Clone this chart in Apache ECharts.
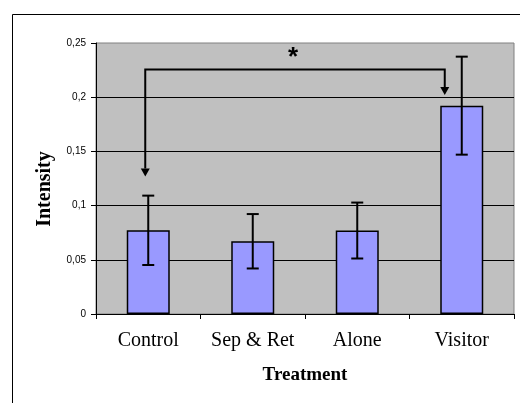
<!DOCTYPE html>
<html>
<head>
<meta charset="utf-8">
<script src="https://cdn.jsdelivr.net/npm/echarts@6/dist/echarts.min.js"></script>
<style>html,body{margin:0;padding:0;background:#fff}#c{width:520px;height:403px}</style>
</head>
<body>
<div id="c"></div>
<script>
// ---- data ----
const categories = ['Control', 'Sep & Ret', 'Alone', 'Visitor'];
const means = [0.0772, 0.0671, 0.0770, 0.1922];
const errors = [0.0320, 0.0251, 0.0258, 0.0452];
const yMin = 0, yMax = 0.25, yStep = 0.05;
// significance bracket: [fromIndex, toIndex, bracketLevel, leftTip, rightTip]
const bracket = [0, 3, 0.2255, 0.1268, 0.2021];
const bracketLabel = '*';
const xTitle = 'Treatment';
const yTitle = 'Intensity';

const chart = echarts.init(document.getElementById('c'), null, {renderer: 'canvas'});

const errData = categories.map((c, i) => [i, means[i] - errors[i], means[i] + errors[i]]);

chart.setOption({
  animation: false,
  backgroundColor: '#fff',
  grid: {left: 96, top: 43, right: 6, bottom: 89, show: true,
         backgroundColor: '#c0c0c0', borderColor: '#808080', borderWidth: 1},
  graphic: [
    {type: 'rect', shape: {x: 12.5, y: 14.5, width: 700, height: 600},
     style: {fill: 'none', stroke: '#000', lineWidth: 1}, z: 0},
    {type: 'text', x: 45, y: 189, rotation: Math.PI / 2,
     style: {text: yTitle, font: 'bold 20px "Liberation Serif"', fill: '#000',
             align: 'center', verticalAlign: 'middle'}}
  ],
  xAxis: {
    type: 'category', data: categories,
    axisLine: {lineStyle: {color: '#000', width: 1}},
    axisTick: {show: true, length: 5, lineStyle: {color: '#000'}},
    axisLabel: {interval: 0, fontFamily: 'Liberation Serif', fontSize: 20, color: '#000', margin: 17},
    name: xTitle, nameLocation: 'middle', nameGap: 52,
    nameTextStyle: {fontFamily: 'Liberation Serif', fontWeight: 'bold', fontSize: 19, color: '#000'}
  },
  yAxis: {
    type: 'value', min: yMin, max: yMax, interval: yStep,
    axisLine: {show: true, lineStyle: {color: '#000', width: 1}},
    axisTick: {show: true, length: 5, lineStyle: {color: '#000'}},
    splitLine: {show: true, showMaxLine: false, showMinLine: false, lineStyle: {color: '#000', width: 1}},
    axisLabel: {fontFamily: 'Liberation Sans', fontSize: 10, color: '#000', margin: 10,
                formatter: v => String(+v.toFixed(2)).replace('.', ',')}
  },
  series: [
    {
      type: 'bar', data: means, barWidth: 43,
      itemStyle: {color: '#9999ff', borderColor: '#000', borderWidth: 1.5},
      z: 2
    },
    {
      type: 'custom', data: errData, z: 3,
      renderItem: function (params, api) {
        const i = api.value(0);
        const lo = api.coord([i, api.value(1)]);
        const hi = api.coord([i, api.value(2)]);
        const x = lo[0], cw = 6;
        const st = {stroke: '#000', lineWidth: 2};
        return {type: 'group', children: [
          {type: 'line', shape: {x1: x, y1: lo[1], x2: x, y2: hi[1]}, style: st},
          {type: 'line', shape: {x1: x - cw, y1: lo[1], x2: x + cw, y2: lo[1]}, style: st},
          {type: 'line', shape: {x1: x - cw, y1: hi[1], x2: x + cw, y2: hi[1]}, style: st}
        ]};
      }
    },
    {
      type: 'custom', data: [bracket], z: 4,
      renderItem: function (params, api) {
        const a = api.coord([api.value(0), api.value(2)]);
        const b = api.coord([api.value(1), api.value(2)]);
        const tl = api.coord([api.value(0), api.value(3)]);
        const tr = api.coord([api.value(1), api.value(4)]);
        const xl = a[0] - 3, xr = b[0] - 17, yl = a[1];
        const hw = 4.5, hh = 8;
        const st = {stroke: '#000', lineWidth: 2, fill: 'none'};
        return {type: 'group', children: [
          {type: 'polyline', shape: {points: [[xl, tl[1] - hh], [xl, yl], [xr, yl], [xr, tr[1] - hh]]}, style: st},
          {type: 'polygon', shape: {points: [[xl - hw, tl[1] - hh], [xl + hw, tl[1] - hh], [xl, tl[1]]]}, style: {fill: '#000'}},
          {type: 'polygon', shape: {points: [[xr - hw, tr[1] - hh], [xr + hw, tr[1] - hh], [xr, tr[1]]]}, style: {fill: '#000'}},
          {type: 'text', x: (xl + xr) / 2 - 2, y: yl - 12,
           style: {text: bracketLabel, font: 'bold 26px "Liberation Sans"', fill: '#000', align: 'center', verticalAlign: 'middle'}}
        ]};
      }
    }
  ]
});
</script>
</body>
</html>
